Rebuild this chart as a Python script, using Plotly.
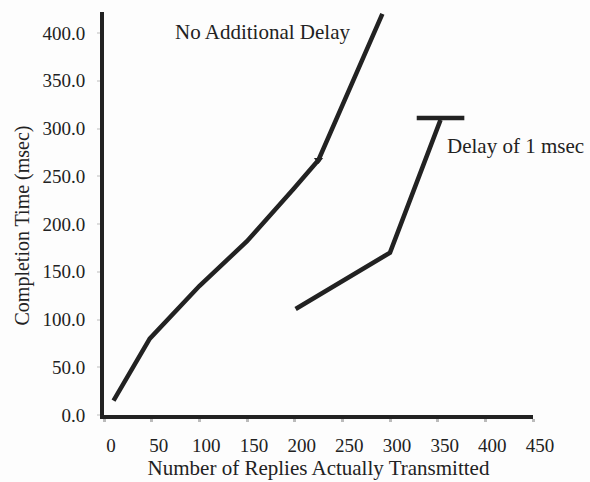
import plotly.graph_objects as go

# Completion time versus replies actually transmitted
no_delay_x = [10, 48, 100, 150, 199, 225, 292]
no_delay_y = [15, 80, 135, 182, 237, 267, 420]

delay_1ms_x = [201, 300, 353]
delay_1ms_y = [111, 170, 309]

x_ticks = [0, 50, 100, 150, 200, 250, 300, 350, 400, 450]
y_ticks = [0, 50, 100, 150, 200, 250, 300, 350, 400]

INK = "#222222"
SERIF = "Liberation Serif"

fig = go.Figure()

fig.add_trace(go.Scatter(
    x=no_delay_x, y=no_delay_y, mode="lines",
    line=dict(color=INK, width=4.5), showlegend=False,
))
# small arrowhead at the bend of the undelayed curve
fig.add_trace(go.Scatter(
    x=[no_delay_x[5]], y=[no_delay_y[5]], mode="markers",
    marker=dict(symbol="triangle-down", size=8, color=INK),
    showlegend=False,
))

fig.add_trace(go.Scatter(
    x=delay_1ms_x, y=delay_1ms_y, mode="lines",
    line=dict(color=INK, width=4.5), showlegend=False,
))
# bar capping the delayed curve
fig.add_trace(go.Scatter(
    x=[delay_1ms_x[-1]], y=[delay_1ms_y[-1] + 2], mode="markers",
    marker=dict(symbol="line-ew", size=34, line=dict(color=INK, width=4.5)),
    showlegend=False,
))

fig.add_annotation(x=72, y=401, text="No Additional Delay", showarrow=False,
                   xanchor="left", yanchor="middle",
                   font=dict(family=SERIF, size=21, color=INK))
fig.add_annotation(x=358, y=282, text="Delay of 1 msec", showarrow=False,
                   xanchor="left", yanchor="middle",
                   font=dict(family=SERIF, size=21, color=INK))
# vertical axis title, set slightly below the plot's mid-height
fig.add_annotation(xref="paper", yref="paper", x=-0.189, y=0.47,
                   text="Completion Time (msec)", showarrow=False, textangle=-90,
                   xanchor="center", yanchor="middle",
                   font=dict(family=SERIF, size=20, color=INK))

fig.update_xaxes(
    range=[0, 450], tickvals=x_ticks, ticktext=[str(v) for v in x_ticks],
    showline=True, linecolor=INK, linewidth=4, showgrid=False, zeroline=False,
    automargin=False,
    ticks="outside", ticklen=3, tickwidth=3, tickcolor="#bbbbbb",
    ticklabelshift=7, ticklabelstandoff=7,
    tickfont=dict(family=SERIF, size=19, color=INK),
    title=dict(text="Number of Replies Actually Transmitted", standoff=6,
               font=dict(family=SERIF, size=21, color=INK)),
)
fig.update_yaxes(
    range=[0, 422], tickvals=y_ticks, ticktext=[f"{v:.1f}" for v in y_ticks],
    showline=True, linecolor=INK, linewidth=4, showgrid=False, zeroline=False,
    automargin=False,
    ticks="outside", ticklen=3, tickwidth=2, tickcolor="#dddddd",
    ticklabelstandoff=8,
    tickfont=dict(family=SERIF, size=19, color=INK),
)

fig.update_layout(
    width=590, height=482,
    margin=dict(l=104, r=57, t=12, b=67),
    paper_bgcolor="#fdfdfd", plot_bgcolor="#fdfdfd",
)

fig.write_html("out.html")
